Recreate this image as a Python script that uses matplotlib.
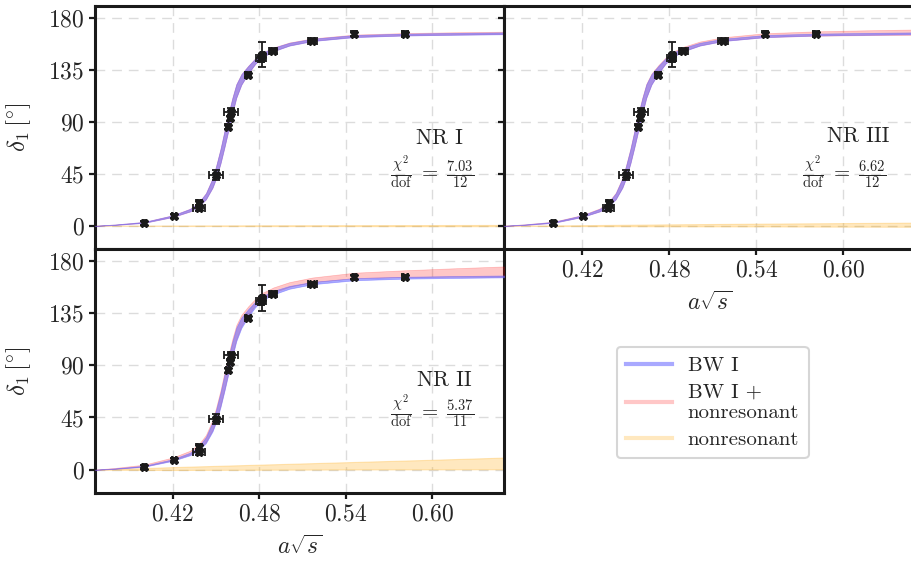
"""
phase shift fits for the three nonresonant models, with data points
"""
import numpy as np
import matplotlib.pyplot as plt
from matplotlib.lines import Line2D

plt.rcParams['font.family'] = 'serif'
plt.rcParams['font.serif'] = ['cmr10']
plt.rcParams['mathtext.fontset'] = 'cm'
plt.rcParams['axes.formatter.use_mathtext'] = True
plt.rcParams['font.size'] = 15

# lattice data
x_data = [0.400, 0.4207, 0.438, 0.4385, 0.4503, 0.4586, 0.4600, 0.4607, 0.4724, 0.4815, 0.4820, 0.4897, 0.5170, 0.5460, 0.5810]
y_data = [2.6, 8.7, 15.6, 20.0, 44.0, 85.6, 93.0, 98.6, 130.6, 145.0, 148.0, 151.5, 160.0, 166.0, 166.0]
x_err = [0.0007, 0.0014, 0.0041, 0.0014, 0.0048, 0.0014, 0.0014, 0.0048, 0.0021, 0.0034, 0.0010, 0.0028, 0.0034, 0.0007, 0.0021]
y_err = [1.5, 1.5, 2.5, 2.0, 4.3, 2.0, 2.0, 3.0, 2.0, 3.0, 11.0, 2.0, 2.0, 2.0, 2.0]

# fit curves (BW I, same in every panel)
x_fit = [0.366, 0.380, 0.400, 0.420, 0.432, 0.438, 0.443, 0.4476, 0.450, 0.4531, 0.4559, 0.4586, 0.4614,
         0.4641, 0.4676, 0.4724, 0.4772, 0.482, 0.490, 0.501, 0.517, 0.546, 0.581, 0.615, 0.650]
bw_mid = [0.0, 1.0, 3.0, 8.4, 13.6, 18.5, 25.5, 37.0, 46.0, 60.0, 75.0, 89.5, 104.0,
          116.5, 126.5, 135.0, 142.2, 147.6, 152.5, 157.0, 160.7, 164.0, 165.3, 165.9, 166.4]
bw_err = [0.1, 0.2, 0.4, 0.7, 1.1, 1.6, 2.6, 4.0, 5.2, 6.2, 7.0, 7.0, 6.6,
          5.8, 4.5, 3.2, 2.3, 1.8, 1.5, 1.2, 1.0, 0.9, 0.8, 0.8, 0.8]

# BW I + nonresonant
tot1_mid = [0.0, 1.0, 3.0, 8.4, 13.6, 18.6, 25.6, 37.1, 46.1, 60.1, 75.1, 89.6, 104.1,
            116.6, 126.6, 135.1, 142.3, 147.7, 152.6, 157.2, 160.9, 164.3, 165.6, 166.3, 166.8]
tot1_err = [0.1, 0.2, 0.4, 0.8, 1.2, 1.7, 2.7, 4.1, 5.3, 6.3, 7.1, 7.1, 6.7,
            5.9, 4.6, 3.3, 2.4, 1.9, 1.6, 1.3, 1.1, 1.0, 1.0, 1.0, 1.0]
tot2_mid = [0.0, 1.2, 3.6, 9.4, 14.8, 19.8, 26.9, 38.5, 47.5, 61.6, 76.6, 91.2, 105.7,
            118.3, 128.4, 137.0, 144.2, 149.7, 154.8, 159.5, 163.5, 167.3, 168.8, 169.8, 170.6]
tot2_err = [0.1, 0.4, 0.8, 1.2, 1.6, 2.1, 3.0, 4.4, 5.6, 6.6, 7.4, 7.4, 7.0,
            6.2, 4.9, 3.7, 2.8, 2.4, 2.2, 2.0, 2.0, 2.3, 2.9, 3.6, 4.4]
tot3_mid = [0.0, 1.0, 3.1, 8.6, 13.8, 18.8, 25.8, 37.3, 46.3, 60.3, 75.3, 89.8, 104.3,
            116.8, 126.9, 135.4, 142.6, 148.1, 153.0, 157.6, 161.4, 164.8, 166.2, 166.9, 167.4]
tot3_err = [0.2, 0.3, 0.5, 0.8, 1.3, 1.8, 2.8, 4.2, 5.4, 6.4, 7.2, 7.2, 6.8,
            6.0, 4.7, 3.5, 2.6, 2.1, 1.9, 1.7, 1.6, 1.7, 1.9, 2.1, 2.3]

# nonresonant only
x_bg = [0.366, 0.42, 0.48, 0.54, 0.60, 0.65]
bg1_lo = [0.0, -0.1, -0.2, -0.2, -0.3, -0.3]
bg1_hi = [0.0, 0.3, 0.5, 0.6, 0.7, 0.8]
bg2_lo = [0.0, -0.2, 0.0, 0.2, 0.3, 0.4]
bg2_hi = [0.0, 2.3, 4.4, 6.5, 8.6, 10.5]
bg3_lo = [0.0, -0.2, -0.4, -0.5, -0.7, -0.8]
bg3_hi = [0.0, 0.6, 1.3, 1.9, 2.4, 2.8]

labels = ['NR I', 'NR II', 'NR III']
chi2 = [r'$\frac{\chi^2}{\rm dof}\;=\;\frac{7.03}{12}$',
        r'$\frac{\chi^2}{\rm dof}\;=\;\frac{5.37}{11}$',
        r'$\frac{\chi^2}{\rm dof}\;=\;\frac{6.62}{12}$']

c_blue = (0.39, 0.39, 1.0)
c_red = (1.0, 0.0, 0.0)
c_orange = (1.0, 0.65, 0.0)
a_blue, a_red, a_orange = 0.55, 0.22, 0.25
txt = '#262626'


def style_axes(ax, xlab=True, ylab=True, yticks=True):
    ax.set_xlim(0.366, 0.65)
    ax.set_ylim(-20, 190)
    ax.set_xticks([0.42, 0.48, 0.54, 0.60])
    ax.set_yticks([0, 45, 90, 135, 180])
    ax.grid(True, color='#dcdcdc', lw=1.0, ls=(0, (7, 5)))
    ax.set_axisbelow(True)
    for s in ax.spines.values():
        s.set_linewidth(2.2)
        s.set_color('#1a1a1a')
    ax.tick_params(direction='out', length=4.5, width=1.6, colors='#1a1a1a',
                   labelcolor=txt, pad=3, labelsize=17)
    ax.tick_params(top=False, right=False)
    if xlab:
        ax.set_xlabel(r'$a\sqrt{s}$', color=txt, fontsize=17, labelpad=7)
    else:
        ax.tick_params(axis='x', bottom=False, labelbottom=False)
    if ylab:
        ax.set_ylabel(r'$\delta_1\,[^{\circ}]$', color=txt, fontsize=18, labelpad=11)
    else:
        ax.tick_params(axis='y', labelleft=False, left=yticks)


def draw_panel(ax, tot_mid, tot_err, bg_lo, bg_hi, name, chi, tpos, cpos):
    xf = np.array(x_fit)
    bm, be = np.array(bw_mid), np.array(bw_err)
    tm, te = np.array(tot_mid), np.array(tot_err)
    ax.fill_between(x_bg, bg_lo, bg_hi, color=c_orange, alpha=a_orange, lw=0.8, zorder=2)
    ax.fill_between(xf, tm - te, tm + te, color=c_red, alpha=a_red, lw=0.5, zorder=3)
    ax.fill_between(xf, bm - be, bm + be, color=c_blue, alpha=a_blue, lw=0.5, zorder=4)
    ax.errorbar(x_data, y_data, xerr=x_err, yerr=y_err, fmt='X', ms=5.5, color='#1a1a1a',
                ecolor='#1a1a1a', elinewidth=1.3, capsize=3, capthick=1.3, zorder=6)
    ax.text(tpos[0], tpos[1], name, transform=ax.transAxes, ha='center', va='center',
            color=txt, fontsize=15.5)
    ax.text(cpos[0], cpos[1], chi, transform=ax.transAxes, ha='center', va='center',
            color=txt, fontsize=15)


fig = plt.figure(figsize=(9.12, 5.62), dpi=100)
ax1 = fig.add_axes([95 / 912, 1 - 249 / 562, 409 / 912, 243 / 562])
ax3 = fig.add_axes([95 / 912, 1 - 493 / 562, 409 / 912, 244 / 562])
ax2 = fig.add_axes([504 / 912, 1 - 249 / 562, 412 / 912, 243 / 562])

draw_panel(ax1, tot1_mid, tot1_err, bg1_lo, bg1_hi, labels[0], chi2[0], (0.843, 0.455), (0.823, 0.318))
draw_panel(ax3, tot2_mid, tot2_err, bg2_lo, bg2_hi, labels[1], chi2[1], (0.853, 0.462), (0.824, 0.334))
draw_panel(ax2, tot3_mid, tot3_err, bg3_lo, bg3_hi, labels[2], chi2[2], (0.86, 0.462), (0.825, 0.318))

style_axes(ax1, xlab=False, ylab=True)
style_axes(ax3, xlab=True, ylab=True)
style_axes(ax2, xlab=True, ylab=False, yticks=True)

handles = [Line2D([], [], color=c_blue, alpha=a_blue, lw=3),
           Line2D([], [], color=c_red, alpha=a_red, lw=3),
           Line2D([], [], color=c_orange, alpha=a_orange, lw=3)]
leg = fig.legend(handles, ['BW I', 'BW I +\nnonresonant', 'nonresonant'],
                 loc='upper left', bbox_to_anchor=(617 / 912, 1 - 347 / 562),
                 fontsize=15, frameon=True, fancybox=True, handlelength=2.2,
                 handletextpad=0.75, labelspacing=0.4, borderpad=0.45, labelcolor=txt,
                 borderaxespad=0)
leg.get_frame().set_edgecolor('#cccccc')
leg.get_frame().set_linewidth(1.5)

fig.savefig('out.png', dpi=100)
